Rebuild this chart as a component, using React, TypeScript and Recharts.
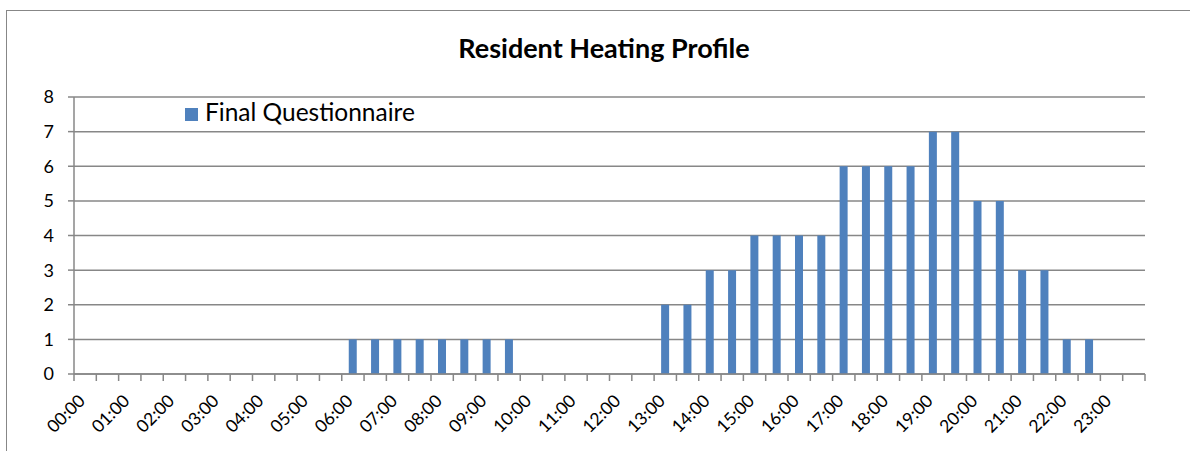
import { BarChart, Bar, XAxis, YAxis, CartesianGrid, Legend } from "recharts";

const slots = [
  "00:00", "00:30", "01:00", "01:30", "02:00", "02:30", "03:00", "03:30",
  "04:00", "04:30", "05:00", "05:30", "06:00", "06:30", "07:00", "07:30",
  "08:00", "08:30", "09:00", "09:30", "10:00", "10:30", "11:00", "11:30",
  "12:00", "12:30", "13:00", "13:30", "14:00", "14:30", "15:00", "15:30",
  "16:00", "16:30", "17:00", "17:30", "18:00", "18:30", "19:00", "19:30",
  "20:00", "20:30", "21:00", "21:30", "22:00", "22:30", "23:00", "23:30",
];

const finalQuestionnaire = [
  0, 0, 0, 0, 0, 0, 0, 0, 0, 0, 0, 0,
  1, 1, 1, 1, 1, 1, 1, 1,
  0, 0, 0, 0, 0, 0,
  2, 2, 3, 3, 4, 4, 4, 4, 6, 6, 6, 6, 7, 7, 5, 5, 3, 3, 1, 1,
  0, 0,
];

const yTicks = [0, 1, 2, 3, 4, 5, 6, 7, 8];

const data = slots.map((slot, i) => ({ slot, value: finalQuestionnaire[i] }));

const W = 1190;
const H = 451;
const PLOT_LEFT = 74;
const PLOT_RIGHT = 1145;
const PLOT_TOP = 97;
const PLOT_BOTTOM = 374;
const BAND = (PLOT_RIGHT - PLOT_LEFT) / slots.length;
const FONT = "Lato, 'Noto Sans', sans-serif";
const AXIS_GRAY = "#878787";
const BLUE = "#4f81bd";

function HourTick(props: any) {
  const { x, y, payload, index } = props;
  const left = x - BAND / 2;
  const showLabel = index % 2 === 0;
  const lx = x + 1;
  const ly = y + 28;
  return (
    <g>
      <line x1={left} y1={y} x2={left} y2={y + 7} stroke={AXIS_GRAY} strokeWidth={1.5} />
      {index === slots.length - 1 && (
        <line x1={x + BAND / 2} y1={y} x2={x + BAND / 2} y2={y + 7} stroke={AXIS_GRAY} strokeWidth={1.5} />
      )}
      {showLabel && (
        <text
          x={lx}
          y={ly}
          transform={`rotate(-45, ${lx}, ${ly})`}
          textAnchor="end"
          fontSize={17.5}
          fill="#000"
          fontFamily={FONT}
        >
          {payload.value}
        </text>
      )}
    </g>
  );
}

function LegendBox() {
  return (
    <div style={{ position: "relative", height: 30, fontFamily: FONT, fontSize: 24.5, lineHeight: "24.5px", color: "#000" }}>
      <span style={{ position: "absolute", left: 0, top: 9, width: 13, height: 13, background: BLUE }} />
      <span style={{ position: "absolute", left: 20, top: 1, whiteSpace: "nowrap" }}>Final Questionnaire</span>
    </div>
  );
}

export default function App() {
  return (
    <div style={{ position: "absolute", left: 0, top: 0, width: W, height: H, background: "#fff" }}>
      <div
        style={{
          position: "absolute",
          left: 6,
          top: 10,
          width: W - 6,
          height: H - 10,
          borderLeft: `1.5px solid ${AXIS_GRAY}`,
          borderTop: `1.5px solid ${AXIS_GRAY}`,
          boxSizing: "border-box",
        }}
      />
      <div
        style={{
          position: "absolute",
          left: 12,
          width: W - 6,
          top: 34,
          textAlign: "center",
          fontFamily: FONT,
          fontWeight: 700,
          fontSize: 27,
          lineHeight: "27px",
          color: "#000",
        }}
      >
        Resident Heating Profile
      </div>
      <div style={{ position: "absolute", left: 0, top: 0 }}>
        <BarChart
          width={W}
          height={H}
          data={data}
          margin={{ top: PLOT_TOP, right: W - PLOT_RIGHT, left: 0, bottom: 7 }}
          style={{ fontFamily: FONT }}
        >
          <CartesianGrid vertical={false} stroke={AXIS_GRAY} strokeWidth={1.5} />
          <XAxis
            dataKey="slot"
            interval={0}
            height={H - PLOT_BOTTOM - 7}
            tickSize={0}
            tickMargin={0}
            tickLine={false}
            axisLine={{ stroke: AXIS_GRAY, strokeWidth: 1.5 }}
            tick={<HourTick />}
          />
          <YAxis
            width={PLOT_LEFT}
            domain={[0, 8]}
            ticks={yTicks}
            interval={0}
            tickSize={6}
            tickMargin={14}
            tickLine={{ stroke: AXIS_GRAY, strokeWidth: 1.5 }}
            axisLine={{ stroke: AXIS_GRAY, strokeWidth: 1.5 }}
            tick={{ fill: "#000", fontSize: 18, fontFamily: FONT }}
          />
          <Legend
            layout="horizontal"
            verticalAlign="middle"
            align="center"
            wrapperStyle={{ left: 185, top: 99, width: 260, height: 30 }}
            content={<LegendBox />}
          />
          <Bar dataKey="value" fill={BLUE} barSize={8} isAnimationActive={false} />
        </BarChart>
      </div>
    </div>
  );
}
